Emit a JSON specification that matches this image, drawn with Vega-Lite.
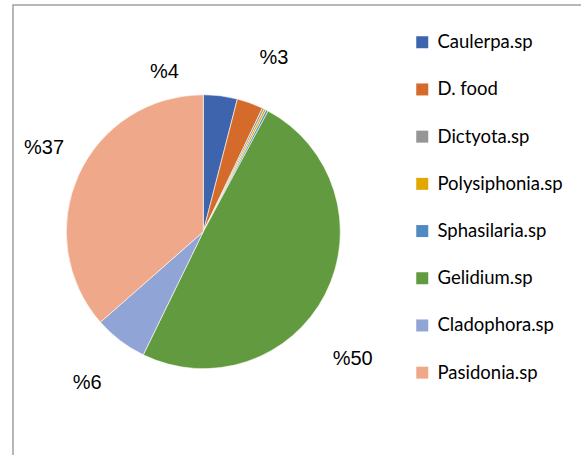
{
  "$schema": "https://vega.github.io/schema/vega-lite/v6.json",
  "width": 572,
  "height": 456,
  "autosize": {"type": "none"},
  "padding": {"left": 13, "top": 5, "right": 0, "bottom": 0},
  "background": "white",
  "view": {"stroke": "#a0a0a0", "strokeWidth": 1.5, "fill": "white"},
  "data": {"values": [
    {"i": 1, "n": "Caulerpa.sp", "v": 4.0, "lab": "%4"},
    {"i": 2, "n": "D. food", "v": 3.1, "lab": "%3"},
    {"i": 3, "n": "Dictyota.sp", "v": 0.25, "lab": ""},
    {"i": 4, "n": "Polysiphonia.sp", "v": 0.25, "lab": ""},
    {"i": 5, "n": "Sphasilaria.sp", "v": 0.25, "lab": ""},
    {"i": 6, "n": "Gelidium.sp", "v": 49.4, "lab": "%50"},
    {"i": 7, "n": "Cladophora.sp", "v": 6.3, "lab": "%6"},
    {"i": 8, "n": "Pasidonia.sp", "v": 36.5, "lab": "%37"}
  ]},
  "encoding": {
    "theta": {"field": "v", "type": "quantitative", "stack": true},
    "order": {"field": "i", "type": "quantitative"}
  },
  "layer": [
    {
      "mark": {"type": "arc", "outerRadius": 137, "x": 190.3, "y": 226.7, "stroke": "white", "strokeWidth": 0.6},
      "encoding": {
        "color": {
          "field": "n", "type": "nominal",
          "scale": {
            "domain": ["Caulerpa.sp", "D. food", "Dictyota.sp", "Polysiphonia.sp", "Sphasilaria.sp", "Gelidium.sp", "Cladophora.sp", "Pasidonia.sp"],
            "range": ["#3d64ad", "#d46b2a", "#969696", "#e0a800", "#4f8bc1", "#629b3f", "#90a4d5", "#f0a88a"]
          },
          "legend": {
            "title": null, "orient": "none", "legendX": 400, "legendY": 28,
            "symbolType": "square", "symbolSize": 144, "symbolStrokeWidth": 0,
            "labelFont": "Lato", "labelFontSize": 18.5, "labelColor": "#000000",
            "labelOffset": 6, "rowPadding": 28.2, "labelLimit": 200
          }
        }
      }
    },
    {
      "mark": {"type": "text", "radius": 160, "x": 190.3, "y": 226.7, "dx": -59, "dy": -1, "font": "Liberation Sans", "fontSize": 20, "color": "#000000", "align": "center", "baseline": "middle"},
      "encoding": {"detail": {"field": "n"}, "text": {"condition": {"test": "datum.n === 'Caulerpa.sp'", "field": "lab"}, "value": ""}}
    },
    {
      "mark": {"type": "text", "radius": 160, "x": 190.3, "y": 226.7, "dx": 16, "dy": -23, "font": "Liberation Sans", "fontSize": 20, "color": "#000000", "align": "center", "baseline": "middle"},
      "encoding": {"detail": {"field": "n"}, "text": {"condition": {"test": "datum.n === 'D. food'", "field": "lab"}, "value": ""}}
    },
    {
      "mark": {"type": "text", "radius": 160, "x": 190.3, "y": 226.7, "dx": 7, "dy": 54, "font": "Liberation Sans", "fontSize": 20, "color": "#000000", "align": "center", "baseline": "middle"},
      "encoding": {"detail": {"field": "n"}, "text": {"condition": {"test": "datum.n === 'Gelidium.sp'", "field": "lab"}, "value": ""}}
    },
    {
      "mark": {"type": "text", "radius": 160, "x": 190.3, "y": 226.7, "dx": -19, "dy": 24, "font": "Liberation Sans", "fontSize": 20, "color": "#000000", "align": "center", "baseline": "middle"},
      "encoding": {"detail": {"field": "n"}, "text": {"condition": {"test": "datum.n === 'Cladophora.sp'", "field": "lab"}, "value": ""}}
    },
    {
      "mark": {"type": "text", "radius": 160, "x": 190.3, "y": 226.7, "dx": -13.5, "dy": -18, "font": "Liberation Sans", "fontSize": 20, "color": "#000000", "align": "center", "baseline": "middle"},
      "encoding": {"detail": {"field": "n"}, "text": {"condition": {"test": "datum.n === 'Pasidonia.sp'", "field": "lab"}, "value": ""}}
    }
  ]
}
